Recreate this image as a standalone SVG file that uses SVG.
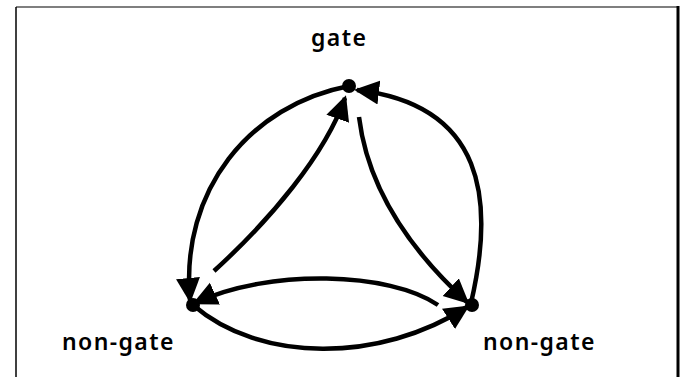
<svg xmlns="http://www.w3.org/2000/svg" width="681" height="377" viewBox="0 0 681 377">
<style>
.lbl{font-family:"Noto Sans","DejaVu Sans",sans-serif;font-size:23px;font-weight:600;fill:#000;letter-spacing:1.4px}
.edge{fill:none;stroke:#000;stroke-width:4.5;marker-end:url(#ah)}
.dot{fill:#000}
</style>
<defs>
<marker id="ah" markerUnits="userSpaceOnUse" markerWidth="28" markerHeight="26" refX="22" refY="12" orient="auto">
<path d="M0,0 L25,12 L0,24 z" fill="#000"/>
</marker>
</defs>
<rect width="681" height="377" fill="#fff"/>
<g id="frame" stroke="#000" fill="none">
<line x1="16" y1="7" x2="16" y2="377" stroke-width="1.5"/>
<line x1="16" y1="7" x2="678" y2="7" stroke-width="1.2"/>
<line x1="678" y1="6" x2="678" y2="377" stroke-width="3"/>
</g>
<g id="connectors">
<path class="edge" d="M349,86 C250,105 180,190 190,300"/>
<path class="edge" d="M214,271 C270,220 325,155 345,98"/>
<path class="edge" d="M359,117 C368,190 410,250 467,302"/>
<path class="edge" d="M471,303 C495,200 485,105 357,90"/>
<path class="edge" d="M438,305 C390,272 270,268 195,303"/>
<path class="edge" d="M193,305 C260,363 380,363 467,307"/>
</g>
<g id="gate">
<circle class="dot" cx="349" cy="86" r="7"/>
<text class="lbl" x="311" y="46">gate</text>
</g>
<g id="nongate-left">
<circle class="dot" cx="193" cy="305" r="7"/>
<text class="lbl" x="62" y="350">non-gate</text>
</g>
<g id="nongate-right">
<circle class="dot" cx="472" cy="305" r="7"/>
<text class="lbl" x="483" y="350">non-gate</text>
</g>
</svg>
